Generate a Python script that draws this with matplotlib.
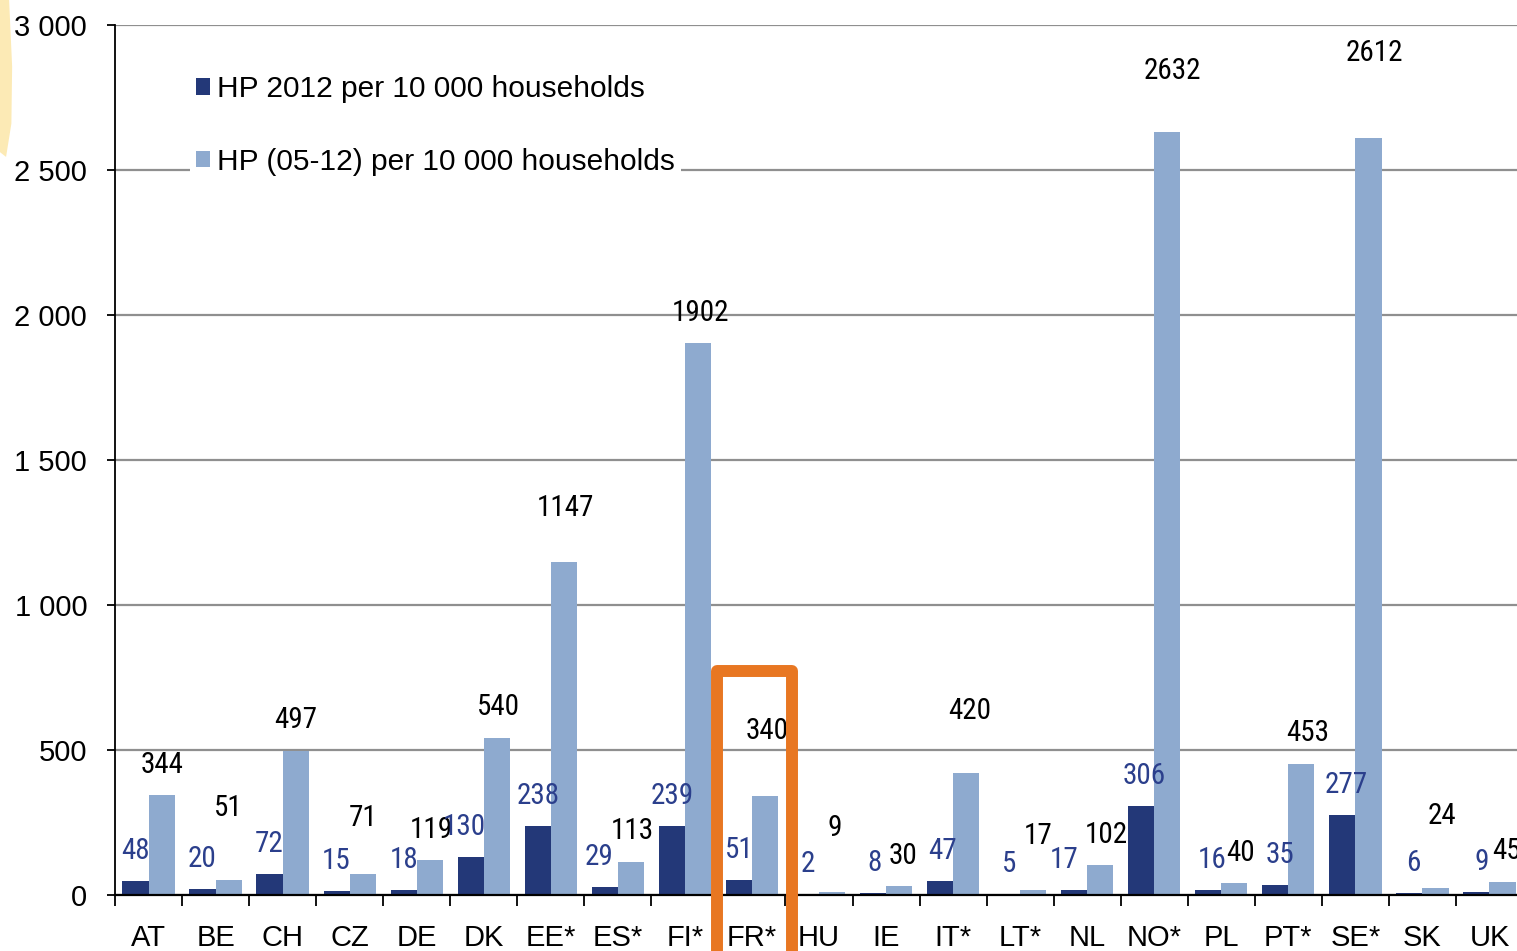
import matplotlib
matplotlib.use("Agg")
import matplotlib.pyplot as plt
from matplotlib.patches import Rectangle, Polygon
import numpy as np

countries = ["AT", "BE", "CH", "CZ", "DE", "DK", "EE*", "ES*", "FI*", "FR*", "HU",
             "IE", "IT*", "LT*", "NL", "NO*", "PL", "PT*", "SE*", "SK", "UK"]
hp_2012 = [48, 20, 72, 15, 18, 130, 238, 29, 239, 51, 2, 8, 47, 5, 17, 306, 16, 35, 277, 6, 9]
hp_05_12 = [344, 51, 497, 71, 119, 540, 1147, 113, 1902, 340, 9, 30, 420, 17, 102, 2632, 40, 453, 2612, 24, 45]
series_names = ["HP 2012 per 10 000 households", "HP (05-12) per 10 000 households"]
y_ticks = [0, 500, 1000, 1500, 2000, 2500, 3000]
y_tick_labels = ["0", "500", "1 000", "1 500", "2 000", "2 500", "3 000"]
highlight = "FR*"

# label offsets from bar tops (pixels), as placed in the original
dark_label_dx = [0, 0, 0, 0, 0, -6, 0, -6, 0, 0, 2, 2, 2, 2, -10, 3, 4, 5, 4, 4, 5]
dark_label_dy = [30] * len(countries)
light_label_dx = [0, 0, 0, 0, 2, 2, 2, 1, 3, 2, 3, 4, 4, 5, 6, 5, 6, 6, 6, 6, 4]
light_label_dy = [30, 72, 31, 56, 30, 31, 54, 31, 30, 65, 64, 30, 62, 54, 30, 61, 30, 31, 85, 72, 31]

DARK = "#233878"
LIGHT = "#8eaacf"
DARK_TXT = "#2b3f8c"
GRID = "#8f8f8f"
ORANGE = "#e87722"

W, H = 1517, 951
dpi = 100
fig = plt.figure(figsize=(W / dpi, H / dpi), dpi=dpi)
fig.patch.set_facecolor("white")

# faint decorative background swirl at left edge
deco = Polygon([[0, 1.0], [0.006, 1.0], [0.008, 0.93], [0.0075, 0.87], [0.004, 0.835], [0, 0.84]],
               closed=True, transform=fig.transFigure, facecolor="#fbd978", alpha=0.55,
               edgecolor="none", zorder=0)
fig.patches.append(deco)

ax_left = 115 / W
ax_right = 1523 / W
ax_bottom = 1 - 895 / H
ax_top = 1 - 25 / H
ax = fig.add_axes([ax_left, ax_bottom, ax_right - ax_left, ax_top - ax_bottom])
ax.set_facecolor("none")

x = np.arange(len(countries))
bw = 0.39
b1 = ax.bar(x - bw / 2, hp_2012, bw, color=DARK, zorder=3, label=series_names[0])
b2 = ax.bar(x + bw / 2, hp_05_12, bw, color=LIGHT, zorder=3, label=series_names[1])

ax.set_xlim(-0.5, len(countries) - 0.5)
ax.set_ylim(0, 3000)
ax.set_yticks(y_ticks)
ax.set_yticklabels(y_tick_labels)
ax.yaxis.grid(True, color=GRID, linewidth=1.6, zorder=0)
ax.set_axisbelow(True)

for s in ["top", "right"]:
    ax.spines[s].set_visible(False)
ax.spines["left"].set_color("black")
ax.spines["left"].set_linewidth(1.3)
ax.spines["bottom"].set_color("black")
ax.spines["bottom"].set_linewidth(1.6)
ax.spines["bottom"].set_zorder(4)

base_family = ["Liberation Sans", "DejaVu Sans"]
ax.tick_params(axis="y", direction="out", length=6, width=1.3, pad=14, labelsize=21)
for t in ax.get_yticklabels():
    t.set_fontfamily(base_family)

# x: major ticks at boundaries (marks), minor ticks at centers (labels)
ax.set_xticks(np.arange(len(countries) + 1) - 0.5)
ax.set_xticklabels([])
ax.tick_params(axis="x", which="major", direction="out", length=8, width=1.3)
ax.set_xticks(x, minor=True)
ax.set_xticklabels(countries, minor=True)
ax.tick_params(axis="x", which="minor", length=0, pad=21, labelsize=21)
for t in ax.get_xticklabels(minor=True):
    t.set_fontfamily(base_family)

label_family = ["Roboto Condensed", "Liberation Sans", "DejaVu Sans"]
px2pt = 72 / dpi
for i in range(len(countries)):
    ax.annotate(str(hp_2012[i]), (x[i] - bw / 2, hp_2012[i]),
                xytext=(dark_label_dx[i] * px2pt, dark_label_dy[i] * px2pt),
                textcoords="offset points",
                ha="center", va="center", fontsize=21, color=DARK_TXT,
                family=label_family, zorder=5, annotation_clip=False)
    ax.annotate(str(hp_05_12[i]), (x[i] + bw / 2, hp_05_12[i]),
                xytext=(light_label_dx[i] * px2pt, light_label_dy[i] * px2pt),
                textcoords="offset points",
                ha="center", va="center", fontsize=21, color="black",
                family=label_family, zorder=5, annotation_clip=False)

# highlight box around FR*
hi = countries.index(highlight)
rect = Rectangle((hi - 0.52, -800), 1.12, 772 + 800, fill=False, edgecolor=ORANGE,
                 linewidth=8.6, joinstyle="round", clip_on=False, zorder=6)
ax.add_patch(rect)

leg = ax.legend(handles=[b1, b2], loc="upper left",
                bbox_to_anchor=(190 / W, 1 - 69 / H), bbox_transform=fig.transFigure,
                frameon=True, fancybox=False, framealpha=1.0, edgecolor="none",
                facecolor="white", prop=dict(family=base_family, size=21.5),
                handlelength=0.47, handleheight=0.47, handletextpad=0.23,
                labelspacing=1.5, borderpad=0.2, borderaxespad=0)
leg.set_zorder(5)

fig.savefig("out.png", dpi=dpi, facecolor="white")
